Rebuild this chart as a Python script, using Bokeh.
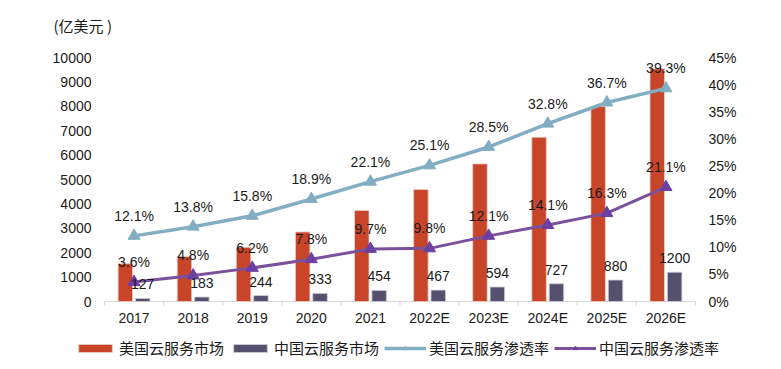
from bokeh.plotting import figure
from bokeh.models import (ColumnDataSource, Range1d, LabelSet, Label, Legend, LegendItem)
from bokeh.core.properties import value
from bokeh.embed import file_html
from bokeh.resources import INLINE

categories = ["2017", "2018", "2019", "2020", "2021", "2022E", "2023E", "2024E", "2025E", "2026E"]
us_market = [1550, 1840, 2220, 2850, 3730, 4590, 5640, 6730, 7990, 9540]
cn_market = [127, 183, 244, 333, 454, 467, 594, 727, 880, 1200]
us_rate = [12.1, 13.8, 15.8, 18.9, 22.1, 25.1, 28.5, 32.8, 36.7, 39.3]
cn_rate = [3.6, 4.8, 6.2, 7.8, 9.7, 9.8, 12.1, 14.1, 16.3, 21.1]
left_ticks = [0, 1000, 2000, 3000, 4000, 5000, 6000, 7000, 8000, 9000, 10000]
right_ticks = [0, 0.05, 0.10, 0.15, 0.20, 0.25, 0.30, 0.35, 0.40, 0.45]
series_names = ["美国云服务市场", "中国云服务市场", "美国云服务渗透率", "中国云服务渗透率"]
unit_label = "(亿美元 )"

RED = "#C8452A"
DARK = "#56506F"
BLUE = "#82AEC3"
PURPLE = "#7B519C"
PURPLE_M = "#6C3FA3"
AXIS = "#D9D9D9"
TXT = "#1a1a1a"
NUM_FONT = "Liberation Sans"
CJK_FONT = "Noto Sans CJK SC"

# canvas / plotting-area geometry (pixels)
W, H = 771, 369
PL, PR, PT, PB = 104, 695, 57, 301
n = len(categories)
LMAX, RMAX = left_ticks[-1], right_ticks[-1]

ux = (PR - PL) / n
x_start = -0.5 - PL / ux
x_end = x_start + W / ux
uy = (PB - PT) / LMAX
y_start = -(H - PB) / uy
y_end = LMAX + PT / uy
ur = (PB - PT) / RMAX
r_start = -(H - PB) / ur
r_end = RMAX + PT / ur

xs = list(range(n))
src = ColumnDataSource(dict(
    x=xs,
    x_us=[x - 0.147 for x in xs],
    x_cn=[x + 0.147 for x in xs],
    base=[0] * n,
    cat=categories,
    us=us_market,
    cn=cn_market,
    cn_lbl=[str(v) for v in cn_market],
    usr=[v / 100 for v in us_rate],
    cnr=[v / 100 for v in cn_rate],
    usr_lbl=[f"{v:.1f}%" for v in us_rate],
    cnr_lbl=[f"{v:.1f}%" for v in cn_rate],
))
lt_src = ColumnDataSource(dict(x=[xs[0] - 0.5] * len(left_ticks), y=left_ticks,
                               t=[str(v) for v in left_ticks]))
rt_src = ColumnDataSource(dict(x=[xs[-1] + 0.5] * len(right_ticks), y=right_ticks,
                               t=[f"{round(v * 100)}%" for v in right_ticks]))

p = figure(width=W, height=H, output_backend="svg", toolbar_location=None, title=None,
           x_range=Range1d(x_start, x_end), y_range=Range1d(y_start, y_end),
           x_axis_location=None, y_axis_location=None, min_border=0)
p.outline_line_color = None
p.xgrid.visible = False
p.ygrid.visible = False
p.background_fill_color = "white"
p.border_fill_color = "white"
p.extra_y_ranges = {"pct": Range1d(r_start, r_end)}

# category axis baseline and boundary ticks
bounds = [x - 0.5 for x in xs] + [xs[-1] + 0.5]
p.segment(x0=[bounds[0]], y0=[0], x1=[bounds[-1]], y1=[0], line_color=AXIS, line_width=1.2)
p.segment(x0=bounds, y0=[0] * len(bounds), x1=bounds, y1=[-4 / uy] * len(bounds),
          line_color=AXIS, line_width=1.2)

r_us = p.vbar(x="x_us", top="us", width=0.245, source=src, fill_color=RED,
              line_color="#EBCFC6", line_width=0.8)
r_cn = p.vbar(x="x_cn", top="cn", width=0.245, source=src, fill_color=DARK,
              line_color="#CFCCD9", line_width=0.8)
l_us = p.line(x="x", y="usr", source=src, y_range_name="pct", line_color=BLUE, line_width=3.5)
m_us = p.scatter(x="x", y="usr", source=src, y_range_name="pct", marker="triangle",
                 size=12, fill_color=BLUE, line_color=BLUE)
l_cn = p.line(x="x", y="cnr", source=src, y_range_name="pct", line_color=PURPLE, line_width=3)
m_cn = p.scatter(x="x", y="cnr", source=src, y_range_name="pct", marker="triangle",
                 size=12, fill_color=PURPLE_M, line_color=PURPLE_M)

def txt(align, baseline):
    return dict(text_font=value(NUM_FONT), text_font_size=value("14px"),
                text_color=value(TXT), text_align=value(align),
                text_baseline=value(baseline))

# data labels
p.add_layout(LabelSet(x="x", y="usr", text="usr_lbl", source=src, y_range_name="pct",
                      y_offset=15, **txt("center", "alphabetic")))
p.add_layout(LabelSet(x="x", y="cnr", text="cnr_lbl", source=src, y_range_name="pct",
                      y_offset=15, **txt("center", "alphabetic")))
p.add_layout(LabelSet(x="x_cn", y="cn", text="cn_lbl", source=src,
                      y_offset=9, **txt("center", "alphabetic")))

# axis tick labels
p.add_layout(LabelSet(x="x", y="base", text="cat", source=src,
                      y_offset=-16, **txt("center", "middle")))
p.add_layout(LabelSet(x="x", y="y", text="t", source=lt_src,
                      x_offset=-13, **txt("right", "middle")))
p.add_layout(LabelSet(x="x", y="y", text="t", source=rt_src, y_range_name="pct",
                      x_offset=13, **txt("left", "middle")))

# unit label
p.add_layout(Label(x=xs[0] - 0.5, y=LMAX, x_offset=-51, y_offset=32, text=unit_label,
                   text_font=CJK_FONT, text_font_size="15px", text_color=TXT,
                   text_baseline="middle", text_align="left"))

legend = Legend(items=[
    LegendItem(label=series_names[0], renderers=[r_us]),
    LegendItem(label=series_names[1], renderers=[r_cn]),
    LegendItem(label=series_names[2], renderers=[l_us, m_us]),
    LegendItem(label=series_names[3], renderers=[l_cn, m_cn]),
], orientation="horizontal", location=(74, 11))
legend.label_text_font = CJK_FONT
legend.label_text_font_size = "15px"
legend.label_text_color = TXT
legend.label_height = 18
legend.glyph_width = 42
legend.glyph_height = 10
legend.label_standoff = 3
legend.spacing = 5
legend.padding = 0
legend.margin = 0
legend.border_line_color = None
legend.background_fill_alpha = 0
p.add_layout(legend, "center")

open("out.html", "w").write(file_html(p, INLINE))
